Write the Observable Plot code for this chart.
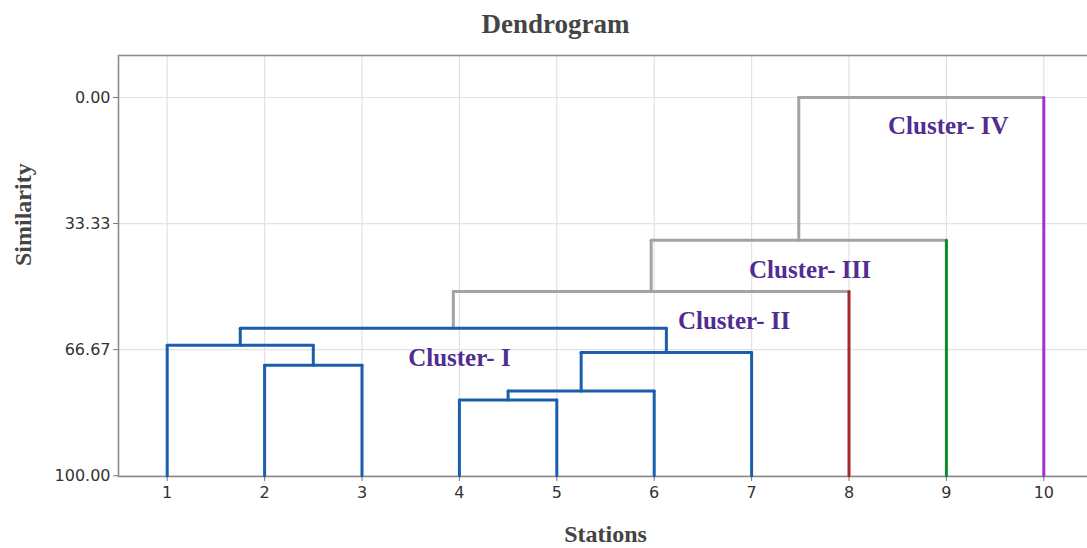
<!DOCTYPE html>
<html>
<head>
<meta charset="utf-8">
<script src="https://cdn.jsdelivr.net/npm/d3@7"></script>
<script src="https://cdn.jsdelivr.net/npm/@observablehq/plot@0.6"></script>
<style>
  html, body { margin: 0; padding: 0; background: #fff; overflow: hidden; }
  #chart { width: 1087px; height: 548px; overflow: hidden; }
  #chart svg { max-width: none; }
</style>
</head>
<body>
<div id="chart"></div>
<script>
// Stations (leaves) and the cluster each one belongs to
const stations = [1, 2, 3, 4, 5, 6, 7, 8, 9, 10];
const stationCluster = ["I", "I", "I", "I", "I", "I", "I", "II", "III", "IV"];

// Agglomeration steps: internal nodes get ids 11..19 in this order
const mergeLeft = [2, 1, 4, 13, 14, 12, 16, 17, 18];
const mergeRight = [3, 11, 5, 6, 7, 15, 8, 9, 10];
const mergeSimilarity = [70.77, 65.48, 79.95, 77.57, 67.43, 60.98, 51.3, 37.75, 0];

// Cluster names and their annotations
const clusterKeys = ["link", "I", "II", "III", "IV"];
const clusterLabels = ["Cluster- I", "Cluster- II", "Cluster- III", "Cluster- IV"];

// Similarity axis ticks
const yTicks = [0, 33.33, 66.67, 100];

// Build node positions from the merge list
const pos = new Map(), sim = new Map(), grp = new Map();
stations.forEach((s, i) => { pos.set(s, s); sim.set(s, 100); grp.set(s, stationCluster[i]); });
const segments = [];
mergeLeft.forEach((a, k) => {
  const b = mergeRight[k], id = 11 + k, h = mergeSimilarity[k];
  const g = grp.get(a) === grp.get(b) ? grp.get(a) : "link";
  pos.set(id, (pos.get(a) + pos.get(b)) / 2);
  sim.set(id, h);
  grp.set(id, g);
  segments.push({x1: pos.get(a), x2: pos.get(b), y1: h, y2: h, group: g});
  for (const c of [a, b]) {
    const leaf = c <= stations.length;
    segments.push({x1: pos.get(c), x2: pos.get(c), y1: h, y2: sim.get(c), group: leaf ? grp.get(c) : g});
  }
});
segments.sort((p, q) => (p.group === "link" ? 0 : 1) - (q.group === "link" ? 0 : 1));

// Annotation anchors in data coordinates
const annotations = clusterLabels.map((text, i) => ({
  text,
  x: [4.0, 6.82, 7.6, 9.02][i],
  y: [68.8, 59.0, 45.5, 7.45][i]
}));

const serif = "'Liberation Serif', 'Times New Roman', serif";

const chart = Plot.plot({
  width: 1096,
  height: 548,
  marginLeft: 118,
  marginRight: 4,
  marginTop: 55,
  marginBottom: 72,
  style: {fontFamily: "'DejaVu Sans', sans-serif", fontSize: "16px", color: "#333", background: "#fff", maxWidth: "none"},
  x: {domain: [0.5, 10.5]},
  y: {domain: [-11.1, 100.2], reverse: true},
  color: {domain: clusterKeys, range: ["#a3a3a3", "#1b5eab", "#a82828", "#0f8a2a", "#a032d2"]},
  marks: [
    Plot.gridX(stations, {stroke: "#e2e2e2", strokeOpacity: 1, strokeWidth: 1.2}),
    Plot.gridY(yTicks, {stroke: "#e2e2e2", strokeOpacity: 1, strokeWidth: 1.2}),
    Plot.frame({stroke: "#8c8c8c", strokeWidth: 1.6}),
    Plot.axisX(stations, {tickSize: 5, tickPadding: 5, label: null, stroke: "#777", fill: "#333"}),
    Plot.axisY(yTicks, {tickSize: 5, tickPadding: 3, label: null, tickFormat: d3.format(".2f"), stroke: "#777", fill: "#333"}),
    Plot.link(segments, {
      x1: "x1", x2: "x2", y1: "y1", y2: "y2",
      stroke: "group", strokeWidth: 3, strokeLinecap: "round"
    }),
    Plot.text(annotations, {
      x: "x", y: "y", text: "text",
      fontFamily: serif, fontWeight: "bold", fontSize: 25, fill: "#512d91",
      textAnchor: "middle", lineAnchor: "middle"
    }),
    Plot.text(["Dendrogram"], {
      frameAnchor: "top", dx: -50, dy: -31, lineAnchor: "middle",
      fontFamily: serif, fontWeight: "bold", fontSize: 27, fill: "#444", letterSpacing: 1
    }),
    Plot.text(["Stations"], {
      frameAnchor: "bottom", dy: 58, lineAnchor: "middle",
      fontFamily: serif, fontWeight: "bold", fontSize: 24, fill: "#444", letterSpacing: 0.5
    }),
    Plot.text(["Similarity"], {
      frameAnchor: "left", dx: -95, rotate: -90, lineAnchor: "middle",
      fontFamily: serif, fontWeight: "bold", fontSize: 24, fill: "#444"
    })
  ]
});

document.getElementById("chart").appendChild(chart);
</script>
</body>
</html>
